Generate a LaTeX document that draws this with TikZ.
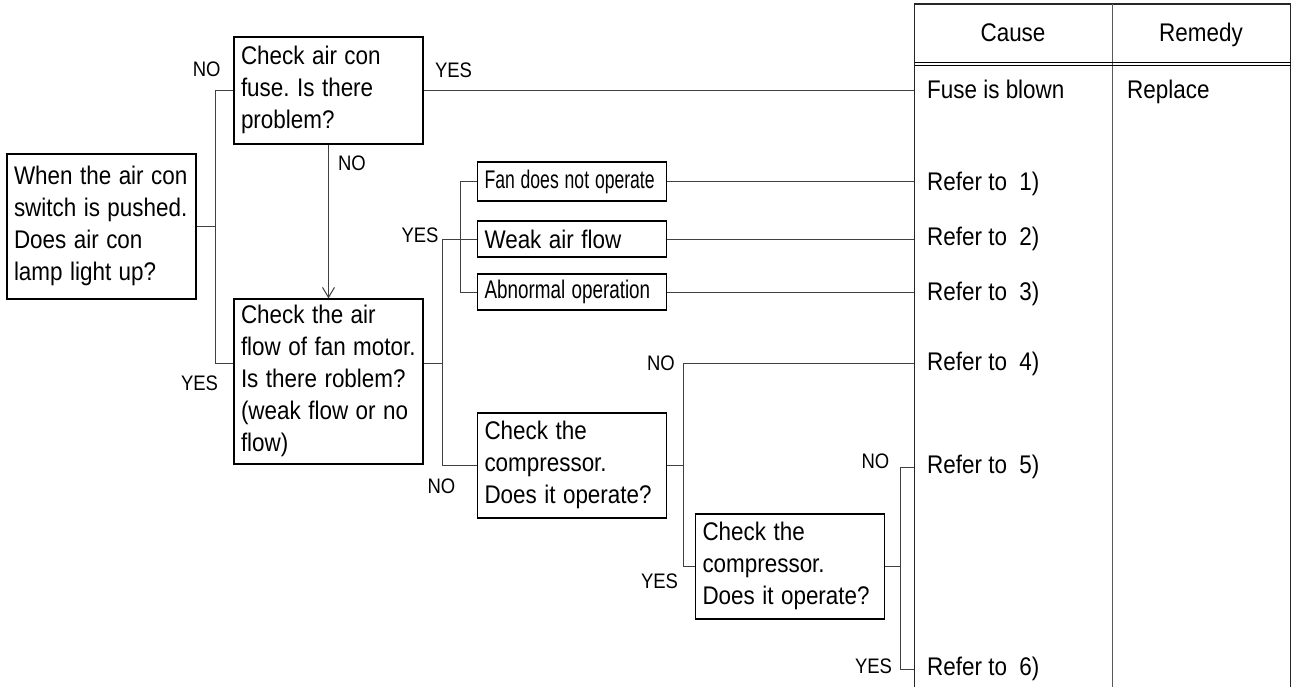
\documentclass[tikz,border=0pt]{standalone}
\usepackage{fontspec}
\setmainfont{Liberation Sans}
\usetikzlibrary{arrows.meta}
\frenchspacing
\newcommand{\hsq}[2][0.88]{\scalebox{#1}[1]{#2}}
\newcommand{\mlines}[1]{\scalebox{0.88}[1]{\begin{tabular}{@{}l@{}}#1\end{tabular}}}
\begin{document}
\begin{tikzpicture}[x=1pt,y=-1pt,
  box/.style={draw=black,line width=1.3pt,inner xsep=7pt,inner ysep=0pt,text width=175pt,align=left,font=\fontsize{25.5}{32}\selectfont},
  sbox/.style={draw=black,line width=1.3pt,inner xsep=7pt,inner ysep=0pt,text width=175pt,align=left,font=\fontsize{25.5}{28}\selectfont},
  lbl/.style={font=\fontsize{21}{24}\selectfont,inner sep=0pt,anchor=base},
  cell/.style={anchor=base west,inner sep=0pt,font=\fontsize{25.5}{28}\selectfont},
  head/.style={anchor=base,inner sep=0pt,font=\fontsize{25.5}{28}\selectfont},
  conn/.style={draw=black!75,line width=1pt},
  tbl/.style={draw=black!85,line width=1.8pt},
]
\useasboundingbox (0,0) rectangle (1298,687);

% decision boxes
\node[box,minimum height=145pt] (q1) at (101.5,226.5) {\mlines{When the air con\\switch is pushed.\\Does air con\\lamp light up?}};
\node[box,minimum height=107pt] (q2) at (328.5,90.5) {\mlines{Check air con\\fuse. Is there\\problem?}};
\node[box,minimum height=165pt] (q3) at (328.5,381.5) {\mlines{Check the air\\flow of fan motor.\\Is there roblem?\\(weak flow or no\\flow)}};
\node[sbox,minimum height=39pt] (f1) at (572,181.5) {\hsq[0.69]{Fan does not operate}};
\node[sbox,minimum height=36pt] (f2) at (572,239) {\hsq{Weak air flow}};
\node[sbox,minimum height=36pt] (f3) at (572,292) {\hsq[0.74]{Abnormal operation}};
\node[box,minimum height=105pt] (c1) at (572,465.5) {\mlines{Check the\\compressor.\\Does it operate?}};
\node[box,minimum height=105pt] (c2) at (790,566.5) {\mlines{Check the\\compressor.\\Does it operate?}};

% helper coordinates
\coordinate (TL) at (914.5,4);
\coordinate (j1) at (215,0);
\coordinate (j2) at (442,239);
\coordinate (j3) at (460,239);
\coordinate (j4) at (683,0);
\coordinate (j5) at (900,0);
\coordinate (q3w) at ([yshift=18.5pt]q3.west);
\coordinate (q3e) at ([yshift=18.5pt]q3.east);
\coordinate (e4) at (914.5,363);
\coordinate (e5) at (914.5,467);
\coordinate (e6) at (914.5,669);

% connectors
\draw[conn] (q1.east) -- (q1.east -| j1);
\draw[conn] (q2.west) -| (j1 |- q3w) -- (q3w);
\draw[conn] (q2.east) -- (q2.east -| TL);
\draw[conn,-{Straight Barb[length=10pt,width=12pt]}] (q2.south) -- (q3.north);
\draw[conn] (q3e) -| (j2) -- (f2.west);
\draw[conn] (q3e -| j2) |- (c1.west);
\draw[conn] (f1.west) -| (j3 |- f3.west) -- (f3.west);
\draw[conn] (f1.east) -- (f1.east -| TL);
\draw[conn] (f2.east) -- (f2.east -| TL);
\draw[conn] (f3.east) -- (f3.east -| TL);
\draw[conn] (c1.east) -- (c1.east -| j4);
\draw[conn] (e4) -| (j4 |- c2.west) -- (c2.west);
\draw[conn] (c2.east) -- (c2.east -| j5);
\draw[conn] (e5) -| (j5 |- e6) -- (e6);

% table
\draw[tbl] (914.5,687) -- (TL) -- (1290.5,4) -- (1290.5,687);
\draw[draw=black!65,line width=1pt] (1112,4) -- (1112,687);
\draw[line width=0.9pt] (914.5,62.5) -- (1290.5,62.5);
\draw[line width=0.9pt] (914.5,65.8) -- (1290.5,65.8);
\node[head] (hc) at (1013,41.5) {\hsq{Cause}};
\node[head] (hr) at (1201,41.5) {\hsq{Remedy}};
\node[cell] (fuse) at (927,98.5) {\hsq{Fuse is blown}};
\node[cell] (rep) at (1127,98.5) {\hsq{Replace}};
\node[cell] (r1) at (927,190.5) {\hsq{Refer to\ \ 1)}};
\node[cell] (r2) at (927,245.5) {\hsq{Refer to\ \ 2)}};
\node[cell] (r3) at (927,300.5) {\hsq{Refer to\ \ 3)}};
\node[cell] (r4) at (927,370.5) {\hsq{Refer to\ \ 4)}};
\node[cell] (r5) at (927,473.5) {\hsq{Refer to\ \ 5)}};
\node[cell] (r6) at (927,675.5) {\hsq{Refer to\ \ 6)}};

% labels
\node[lbl] (l1) at (206.7,76.5) {\hsq{NO}};
\node[lbl] (l2) at (453.5,77.5) {\hsq{YES}};
\node[lbl] (l3) at (352,170.5) {\hsq{NO}};
\node[lbl] (l4) at (199.5,390.5) {\hsq{YES}};
\node[lbl] (l5) at (420,242.5) {\hsq{YES}};
\node[lbl] (l6) at (441.5,493.5) {\hsq{NO}};
\node[lbl] (l7) at (661,370.5) {\hsq{NO}};
\node[lbl] (l8) at (659.5,588.5) {\hsq{YES}};
\node[lbl] (l9) at (875.5,468.5) {\hsq{NO}};
\node[lbl] (l10) at (873.5,673.5) {\hsq{YES}};
\end{tikzpicture}
\end{document}
